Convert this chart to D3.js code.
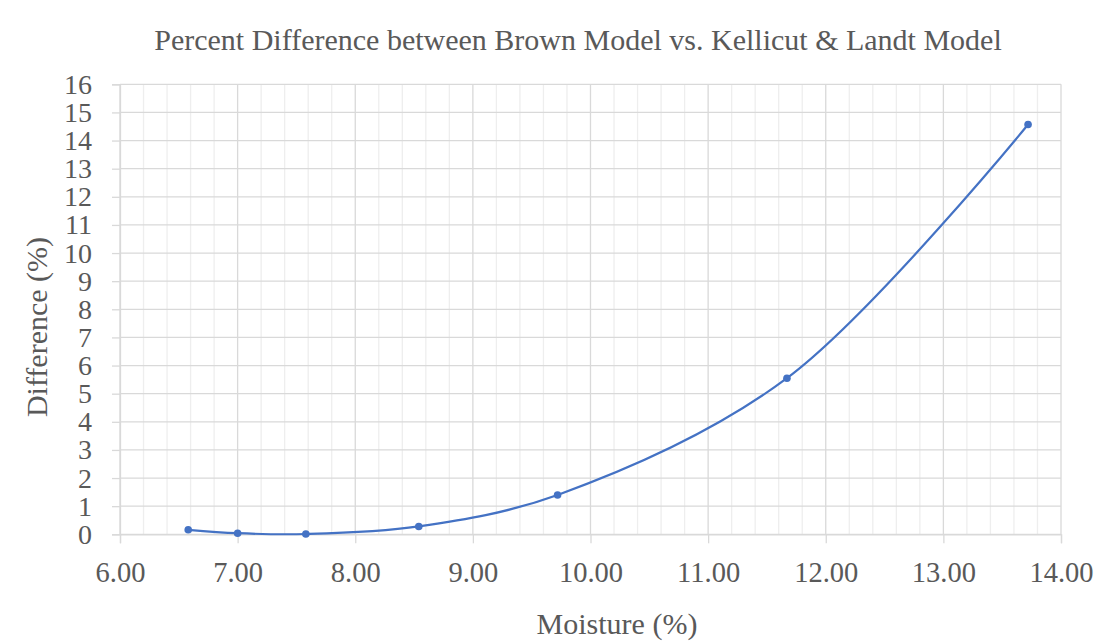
<!DOCTYPE html>
<html>
<head>
<meta charset="utf-8">
<script src="https://cdn.jsdelivr.net/npm/d3@7"></script>
<style>
  html, body { margin: 0; padding: 0; background: #fff; }
  svg { display: block; }
  text { font-family: "Liberation Serif", "Times New Roman", serif; fill: #595959; }
</style>
</head>
<body>
<svg id="chart" width="1103" height="643"></svg>
<script>
// Moisture content (%) and percent difference between the two models
const moisture = [6.58, 7.00, 7.58, 8.54, 9.72, 11.67, 13.72];
const difference = [0.16, 0.04, 0.01, 0.28, 1.40, 5.55, 14.57];

const xTickValues = [6, 7, 8, 9, 10, 11, 12, 13, 14];
const yTickValues = d3.range(0, 17);

const titleText = "Percent Difference between Brown Model vs. Kellicut & Landt Model";
const xTitle = "Moisture (%)";
const yTitle = "Difference (%)";

const svg = d3.select("#chart");
const plotLeft = 120, plotRight = 1061, plotTop = 84.3, plotBottom = 534.3;

const x = d3.scaleLinear().domain([6, 14]).range([plotLeft, plotRight]);
const y = d3.scaleLinear().domain([0, 16]).range([plotBottom, plotTop]);

// Minor vertical gridlines every 0.2
const minor = d3.range(6, 14.0001, 0.2).filter(v => Math.abs(v - Math.round(v)) > 1e-6);
svg.append("g").selectAll("line").data(minor).join("line")
  .attr("x1", d => x(d)).attr("x2", d => x(d))
  .attr("y1", plotTop).attr("y2", plotBottom)
  .attr("stroke", "#eeeeee").attr("stroke-width", 1.3);

// Major vertical gridlines
svg.append("g").selectAll("line").data(xTickValues).join("line")
  .attr("x1", d => x(d)).attr("x2", d => x(d))
  .attr("y1", plotTop).attr("y2", plotBottom)
  .attr("stroke", "#d9d9d9").attr("stroke-width", 1.3);

// Horizontal gridlines
svg.append("g").selectAll("line").data(yTickValues).join("line")
  .attr("x1", plotLeft).attr("x2", plotRight)
  .attr("y1", d => y(d)).attr("y2", d => y(d))
  .attr("stroke", "#d9d9d9").attr("stroke-width", 1.3);

// Axes with outward tick marks
const xAxis = d3.axisBottom(x).tickValues(xTickValues).tickSize(9).tickPadding(18)
  .tickFormat(d3.format(".2f"));
const gx = svg.append("g").attr("transform", `translate(0,${plotBottom})`).call(xAxis);
gx.select(".domain").attr("stroke", "#d9d9d9").attr("stroke-width", 1.3);
gx.selectAll(".tick line").attr("stroke", "#d9d9d9").attr("stroke-width", 1.3);
gx.selectAll(".tick text").attr("font-size", 28.5).attr("fill", "#595959")
  .style("font-family", "'Liberation Serif', serif");

const yAxis = d3.axisLeft(y).tickValues(yTickValues).tickSize(8).tickPadding(28)
  .tickFormat(d3.format("d"));
const gy = svg.append("g").attr("transform", `translate(${plotLeft},0)`).call(yAxis);
gy.select(".domain").attr("stroke", "#d9d9d9").attr("stroke-width", 1.3);
gy.selectAll(".tick line").attr("stroke", "#d9d9d9").attr("stroke-width", 1.3);
gy.selectAll(".tick text").attr("font-size", 28).attr("fill", "#595959")
  .attr("x", -28).attr("text-anchor", "end")
  .style("font-family", "'Liberation Serif', serif");

// Smoothed series line
const line = d3.line()
  .x((d, i) => x(moisture[i]))
  .y(d => y(d))
  .curve(d3.curveCatmullRom.alpha(0.5));

svg.append("path").datum(difference)
  .attr("d", line)
  .attr("fill", "none")
  .attr("stroke", "#4472C4")
  .attr("stroke-width", 2.2);

svg.append("g").selectAll("circle").data(difference).join("circle")
  .attr("cx", (d, i) => x(moisture[i]))
  .attr("cy", d => y(d))
  .attr("r", 3.8)
  .attr("fill", "#4472C4");

// Titles
svg.append("text").attr("x", 578).attr("y", 50)
  .attr("text-anchor", "middle").attr("font-size", 30)
  .text(titleText);

svg.append("text").attr("x", 617).attr("y", 634)
  .attr("text-anchor", "middle").attr("font-size", 30)
  .text(xTitle);

svg.append("text")
  .attr("transform", "translate(47,327) rotate(-90)")
  .attr("text-anchor", "middle").attr("font-size", 30)
  .text(yTitle);
</script>
</body>
</html>
